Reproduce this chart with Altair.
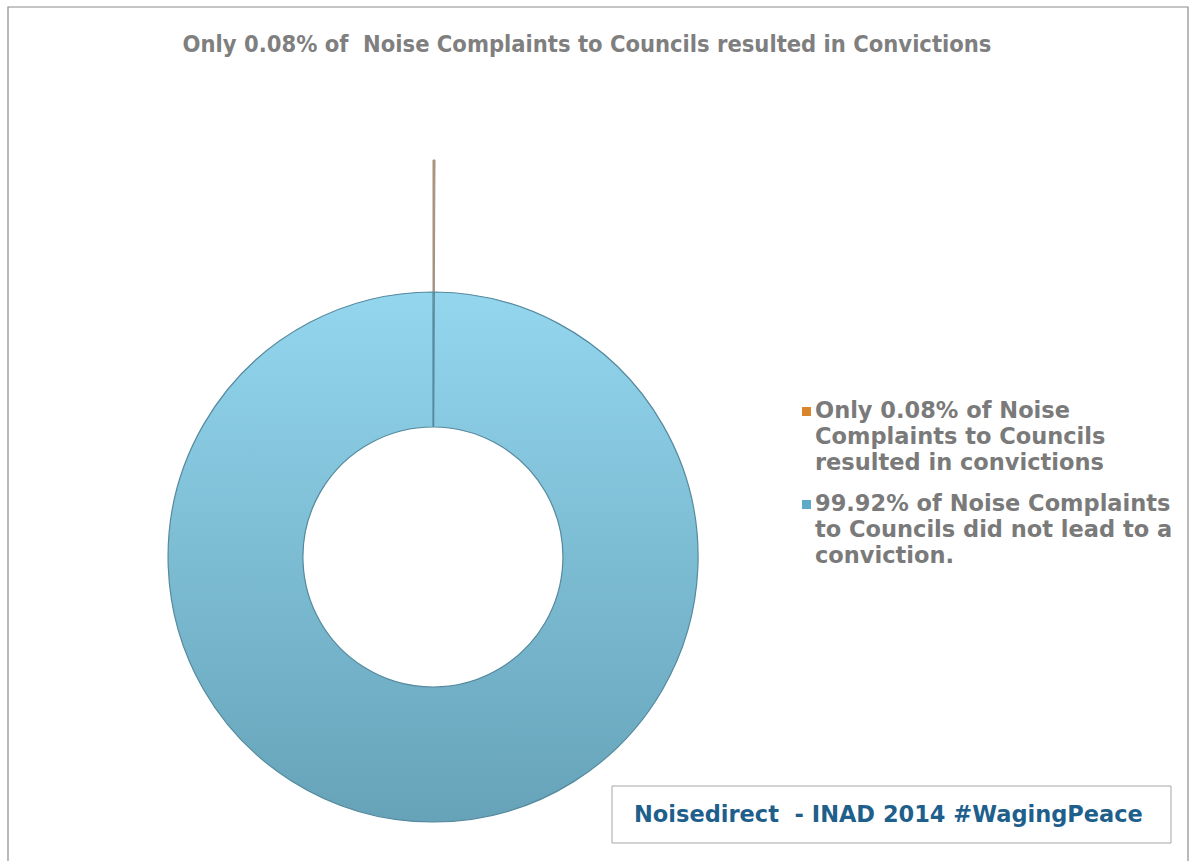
import altair as alt
import pandas as pd

# ---- data ----
categories = [
    "Only 0.08% of Noise Complaints to Councils resulted in convictions",
    "99.92% of Noise Complaints to Councils did not lead to a conviction.",
]
values = [0.08, 99.92]
order = [0, 1]
legend_lines = [
    ["Only 0.08% of Noise", "Complaints to Councils", "resulted in convictions"],
    ["99.92% of Noise Complaints", "to Councils did not lead to a", "conviction."],
]
legend_colors = ["#d8852c", "#5fa9c9"]
title_text = "Only 0.08% of \u00a0Noise Complaints to Councils resulted in Convictions"
footer_text = "Noisedirect \u00a0- INAD 2014 #WagingPeace"

df = pd.DataFrame({"category": categories, "value": values, "order": order})

W, H = 1194, 861
CX, CY = 433, 557
R_OUT, R_IN = 265, 130
EXPLODE = 132

ring_grad = alt.Gradient(
    gradient="linear",
    stops=[alt.GradientStop(offset=0, color="#93d6ee"),
           alt.GradientStop(offset=1, color="#66a3b9")],
    x1=0, x2=0, y1=0, y2=1,
)

base = alt.Chart(df).encode(
    theta=alt.Theta("value:Q", stack=True),
    order=alt.Order("order:Q"),
)

ring = base.mark_arc(
    radius=R_OUT, radius2=R_IN, fill=ring_grad, stroke="#55899d", strokeWidth=1.2
).encode(
    x=alt.value(CX), y=alt.value(CY),
    opacity=alt.condition(alt.datum.order == 1, alt.value(1), alt.value(0)),
)

exploded = base.mark_arc(
    radius=R_OUT + EXPLODE, radius2=R_IN + EXPLODE, fill="#c8935f", stroke="#9a928c", strokeWidth=1
).encode(
    x=alt.value(CX), y=alt.value(CY),
    opacity=alt.condition(alt.datum.order == 0, alt.value(1), alt.value(0)),
)

frame = alt.Chart(pd.DataFrame({"a": [0]})).mark_rect(
    fill="white", stroke="#8c8c8c", strokeWidth=1.2
).encode(x=alt.value(8), x2=alt.value(1188), y=alt.value(7), y2=alt.value(880))

title = alt.Chart(pd.DataFrame({"t": [title_text]})).mark_text(
    font="DejaVu Sans Condensed", fontWeight="bold", fontSize=23.5, color="#7f7f7f",
    align="center", baseline="middle"
).encode(text="t:N", x=alt.value(587), y=alt.value(45))

legend_layers = []
for i, (lines, col) in enumerate(zip(legend_lines, legend_colors)):
    top = 400 + i * 93
    legend_layers.append(
        alt.Chart(pd.DataFrame({"t": ["\n".join(lines)]})).mark_text(
            font="DejaVu Sans", fontWeight="bold", fontSize=22.5, color="#7a7a7a",
            align="left", baseline="top", lineBreak="\n", lineHeight=26
        ).encode(text="t:N", x=alt.value(815), y=alt.value(top))
    )
    legend_layers.append(
        alt.Chart(pd.DataFrame({"a": [0]})).mark_rect(fill=col).encode(
            x=alt.value(802), x2=alt.value(811), y=alt.value(top + 7), y2=alt.value(top + 16)
        )
    )

footer_box = alt.Chart(pd.DataFrame({"a": [0]})).mark_rect(
    fill="white", stroke="#a6a6a6", strokeWidth=1
).encode(x=alt.value(612), x2=alt.value(1171), y=alt.value(786), y2=alt.value(843))

footer = alt.Chart(pd.DataFrame({"t": [footer_text]})).mark_text(
    font="DejaVu Sans", fontWeight="bold", fontSize=22.5, color="#1f5f8b",
    align="left", baseline="middle"
).encode(text="t:N", x=alt.value(634), y=alt.value(815))

chart = alt.layer(frame, title, exploded, ring, *legend_layers, footer_box, footer).properties(
    width=W, height=H, padding=0, autosize=alt.AutoSizeParams(type="none")
).configure_view(stroke=None)

chart.save("out.html", embed_options={"renderer": "svg", "actions": False})
